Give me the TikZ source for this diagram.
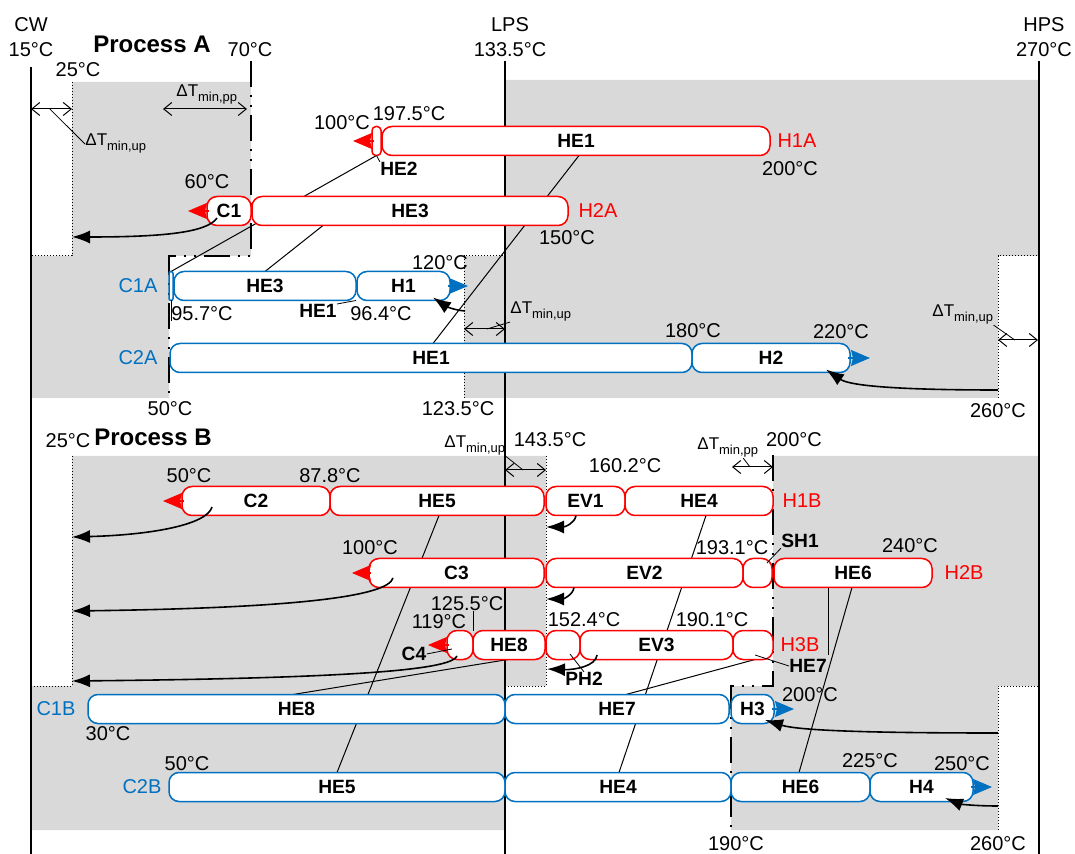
\documentclass[tikz,border=0pt]{standalone}
\usepackage{fontspec}
\setmainfont{Liberation Sans}
\usetikzlibrary{arrows.meta,calc}
\definecolor{hot}{HTML}{FF0000}
\definecolor{cold}{HTML}{0070C0}
\definecolor{regiongray}{HTML}{D9D9D9}
\pgfdeclarelayer{shadelayer}
\pgfdeclarelayer{linklayer}
\pgfsetlayers{shadelayer,linklayer,main}
\newcommand\segnode[7][5pt]{%
  \pgfmathsetmacro\segw{(#4-#3)*0.5}%
  \node[segbox, draw=#6, rounded corners=#1, minimum width=\segw pt] (#2) at (#3,#5) {#7};}
\newcommand\dtmin[1]{ΔT\raisebox{-2.5pt}{\fontsize{6.5}{7}\selectfont #1}}
\begin{document}
\begin{tikzpicture}[x=0.5pt,y=-0.5pt,
  segbox/.style={fill=white, line width=0.75pt, minimum height=14.5pt, inner sep=0pt, outer sep=0pt, anchor=west, font=\fontsize{9.6}{11}\selectfont\bfseries},
  lbl/.style={inner sep=0pt, font=\fontsize{10}{12}\selectfont},
  seglbl/.style={inner sep=0pt, font=\fontsize{9.6}{11}\selectfont\bfseries},
  headline/.style={inner sep=0pt, font=\fontsize{12}{14}\selectfont\bfseries},
  dtlbl/.style={inner sep=0pt, anchor=base west, font=\fontsize{8.5}{10}\selectfont},
  boundary/.style={line width=0.5pt, dash pattern=on 0.6pt off 0.9pt},
  utility/.style={line width=0.75pt},
  pinch/.style={line width=1.4pt, dash pattern=on 13pt off 4pt on 1pt off 4pt on 1pt off 4pt},
  match/.style={line width=0.5pt},
  leader/.style={line width=0.4pt},
  dtarrow/.style={line width=0.5pt, {Straight Barb[length=4pt,width=6.5pt]}-{Straight Barb[length=4pt,width=6.5pt]}},
  duty/.style={line width=0.8pt, -{Latex[length=9pt,width=6.5pt]}},
  hotend/.style={hot, line width=0.6pt, -{Stealth[length=9.5pt,width=8pt,inset=1pt]}},
  coldend/.style={cold, line width=0.6pt, -{Stealth[length=9.5pt,width=8pt,inset=1pt]}},
]
\useasboundingbox (0,0) rectangle (1075,854);

% ---------- shaded regions ----------
\begin{pgfonlayer}{shadelayer}
\fill[regiongray] (72,82) -- (251,82) -- (251,256) -- (169,256) -- (169,398) -- (32,398) -- (32,256) -- (72,256) -- cycle;
\fill[regiongray] (505,80) -- (1039,80) -- (1039,256) -- (998,256) -- (998,398) -- (464,398) -- (464,256) -- (505,256) -- cycle;
\fill[regiongray] (72,456) -- (546,456) -- (546,686) -- (505,686) -- (505,830) -- (32,830) -- (32,686) -- (72,686) -- cycle;
\fill[regiongray] (773,456) -- (1039,456) -- (1039,686) -- (998,686) -- (998,830) -- (731,830) -- (731,686) -- (773,686) -- cycle;
\draw[boundary] (72,82) -- (72,256) -- (31,256);
\draw[boundary] (464,398) -- (464,256) -- (505,256);
\draw[boundary] (998,398) -- (998,256) -- (1039,256);
\draw[boundary] (72,456) -- (72,686) -- (31,686);
\draw[boundary] (546,456) -- (546,686) -- (505,686);
\draw[boundary] (998,830) -- (998,686) -- (1039,686);
\end{pgfonlayer}

% ---------- stream segments ----------
% Process A
\segnode[2pt]{h1a2}{372}{381}{141}{hot}{}
\segnode{h1a1}{382}{770}{141}{hot}{HE1}
\segnode{h2ac1}{207}{251}{211}{hot}{C1}
\segnode{h2a3}{252}{568}{211}{hot}{HE3}
\segnode[1pt]{c1a0}{169}{173}{286}{cold}{}
\segnode{c1a3}{174}{356}{286}{cold}{HE3}
\segnode{c1ah1}{357}{450}{286}{cold}{H1}
\segnode{c2a1}{170}{692}{358}{cold}{HE1}
\segnode{c2ah2}{692}{850}{358}{cold}{H2}
% Process B
\segnode{h1bc2}{182}{330}{501}{hot}{C2}
\segnode{h1b5}{330}{544}{501}{hot}{HE5}
\segnode{h1bev1}{546}{625}{501}{hot}{EV1}
\segnode{h1b4}{625}{773}{501}{hot}{HE4}
\segnode{h2bc3}{369}{544}{573}{hot}{C3}
\segnode{h2bev2}{546}{743}{573}{hot}{EV2}
\segnode{h2bsh1}{743}{772}{573}{hot}{}
\segnode{h2b6}{774}{932}{573}{hot}{HE6}
\segnode{h3bc4}{447}{473}{645}{hot}{}
\segnode{h3b8}{473}{545}{645}{hot}{HE8}
\segnode{h3bph2}{546}{580}{645}{hot}{}
\segnode{h3bev3}{580}{733}{645}{hot}{EV3}
\segnode{h3b7}{733}{773}{645}{hot}{}
\segnode{c1b8}{88}{505}{709}{cold}{HE8}
\segnode{c1b7}{505}{729}{709}{cold}{HE7}
\segnode{c1bh3}{731}{774}{709}{cold}{H3}
\segnode{c2b5}{169}{505}{787}{cold}{HE5}
\segnode{c2b4}{505}{731}{787}{cold}{HE4}
\segnode{c2b6}{731}{870}{787}{cold}{HE6}
\segnode{c2bh4}{870}{973}{787}{cold}{H4}

% ---------- utility lines, pinch lines, matches (behind bars) ----------
\begin{pgfonlayer}{linklayer}
\coordinate (cwtop) at (31,67);   \coordinate (cwbot) at (31,854);
\coordinate (lpstop) at (505,61); \coordinate (lpsbot) at (505,854);
\coordinate (hpstop) at (1039,61);\coordinate (hpsbot) at (1039,854);
\draw[utility] (cwtop) -- (cwbot);
\draw[utility] (lpstop) -- (lpsbot);
\draw[utility] (hpstop) -- (hpsbot);
\draw[pinch] (251,61) -- (251,256) -- (169,256) -- (169,398);
\draw[pinch] (773,455) -- (773,686) -- (731,686) -- (731,830);
\draw[match] (h1a2.south) -- (c1a0.north);
\draw[match] (h2a3.south -| 323,0) -- (c1a3.north -| 265,0);
\draw[match] (h1a1.south -| 579,0) -- (c2a1.north -| 433,0);
\draw[match] (h1b5.south -| 439,0) -- (c2b5.north -| 337,0);
\draw[match] (h1b4.south -| 706,0) -- (c2b4.north -| 619,0);
\draw[match] (h2b6.south -| 852,0) -- (c2b6.north -| 799,0);
\draw[match] (h3b8.south -| 508,0) -- (c1b8.north -| 293,0);
\draw[match] (h3b7.south -| 755,0) -- (c1b7.north -| 626,0);
\coordinate (he7v) at (828,655);
\draw[match] (h2b6.south -| 828,0) -- (he7v);
\end{pgfonlayer}

% ---------- stream end arrows ----------
\draw[hotend] ([xshift=1pt]h1a2.west) -- ++(-21,0);
\draw[hotend] ([xshift=1pt]h2ac1.west) -- ++(-21,0);
\draw[hotend] ([xshift=1pt]h1bc2.west) -- ++(-21,0);
\draw[hotend] ([xshift=1pt]h2bc3.west) -- ++(-19,0);
\draw[hotend] ([xshift=1pt]h3bc4.west) -- ++(-21,0);
\draw[coldend] ([xshift=-1pt]c1ah1.east) -- ++(20,0);
\draw[coldend] ([xshift=-1pt]c2ah2.east) -- ++(22,0);
\draw[coldend] ([xshift=-1pt]c1bh3.east) -- ++(22,0);
\draw[coldend] ([xshift=-1pt]c2bh4.east) -- ++(21,0);

% ---------- utility duty arrows ----------
\coordinate (cwA) at (72,237);
\coordinate (lpsA) at (465,311);
\coordinate (hpsA) at (998,390);
\coordinate (cwB1) at (72,537);
\coordinate (lpsB1) at (546,527);
\coordinate (cwB2) at (72,611);
\coordinate (lpsB2) at (546,599);
\coordinate (cwB3) at (72,681);
\coordinate (lpsB3) at (547,669);
\coordinate (hpsB1) at (998,733);
\coordinate (hpsB2) at (998,806);
\draw[duty] ($(h2ac1.south -| 217,0)+(0,-7.5)$) .. controls (207,233) and (160,237) .. (cwA);
\draw[duty] (lpsA) .. controls (452,310) and (444,305) .. ($(c1ah1.south -| 433,0)+(0,-3)$);
\draw[duty] (hpsA) .. controls (900,390) and (850,386) .. ($(c2ah2.south -| 826,0)+(0,-3)$);
\draw[duty] ($(h1bc2.south -| 212,0)+(0,-8.5)$) .. controls (207,525) and (150,535) .. (cwB1);
\draw[duty] (h1bev1.south -| 576,0) .. controls (575,523) and (565,527) .. (lpsB1);
\draw[duty] ($(h2bc3.south -| 393,0)+(0,-9.5)$) .. controls (388,596) and (300,608) .. (cwB2);
\draw[duty] (h2bev2.south -| 574,0) .. controls (573,595) and (563,599) .. (lpsB2);
\draw[duty] ($(h3bc4.south -| 457,0)+(0,-3.5)$) .. controls (452,668) and (380,678) .. (cwB3);
\draw[duty] ($(h3bev3.south -| 597,0)+(0,-4.5)$) .. controls (596,666) and (575,670) .. (lpsB3);
\draw[duty] (hpsB1) .. controls (880,733) and (800,731) .. ($(c1bh3.south -| 765,0)+(0,-3.5)$);
\draw[duty] (hpsB2) .. controls (975,806) and (960,804) .. ($(c2bh4.south -| 945,0)+(0,-3.5)$);

% ---------- delta T markers ----------
\coordinate (dA1a) at (31,109);  \coordinate (dA1b) at (72,109);
\coordinate (dA2a) at (163,109); \coordinate (dA2b) at (247,109);
\coordinate (dA3a) at (464,329); \coordinate (dA3b) at (505,329);
\coordinate (dA4a) at (998,340); \coordinate (dA4b) at (1038,340);
\coordinate (dB1a) at (505,470); \coordinate (dB1b) at (546,470);
\coordinate (dB2a) at (732,467); \coordinate (dB2b) at (773,467);
\draw[dtarrow] (dA1a) -- (dA1b);
\draw[dtarrow] (dA2a) -- (dA2b);
\draw[dtarrow] (dA3a) -- (dA3b);
\draw[dtarrow] (dA4a) -- (dA4b);
\draw[dtarrow] (dB1a) -- (dB1b);
\draw[dtarrow] (dB2a) -- (dB2b);
\node[dtlbl] (tdA1) at (85,146) {\dtmin{min,up}};
\node[dtlbl] (tdA2) at (176,97) {\dtmin{min,pp}};
\node[dtlbl] (tdA3) at (510,314) {\dtmin{min,up}};
\node[dtlbl] (tdA4) at (932,317) {\dtmin{min,up}};
\node[dtlbl] (tdB1) at (444,448) {\dtmin{min,up}};
\node[dtlbl] (tdB2) at (697,450) {\dtmin{min,pp}};
\draw[leader] ($(dA1a)!0.46!(dA1b)$) -- (tdA1.west);
\draw[leader] ($(dA3a)!0.56!(dA3b)$) -- (tdA3.south west);
\draw[leader] ($(dA4a)!0.42!(dA4b)$) -- (tdA4.south east);
\draw[leader] ($(dB1a)!0.44!(dB1b)$) -- (tdB1.south east);
\draw[leader] ($(dB2a)!0.44!(dB2b)$) -- ($(tdB2.south)!0.5!(tdB2.south east)$);

% ---------- headings ----------
\node[lbl] (tcw) at (31,25) {CW};
\node[lbl] (tcwt) at (31,50) {15°C};
\node[lbl] (tlps) at (510,25) {LPS};
\node[lbl] (tlpst) at (510,50) {133.5°C};
\node[lbl] (thps) at (1044,25) {HPS};
\node[lbl] (thpst) at (1044,50) {270°C};
\node[headline] (tpa) at (152,44) {Process A};
\node[headline] (tpb) at (153,437) {Process B};

% ---------- Process A labels ----------
\node[lbl] (t70) at (250,50) {70°C};
\node[lbl] (t25a) at (78,70) {25°C};
\node[lbl] (t100a) at (342,123) {100°C};
\node[lbl] (t1975) at (409,114) {197.5°C};
\node[seglbl] (lhe2) at (399,169) {HE2};
\draw[leader] (h1a2.south) -- (lhe2.north west);
\node[lbl, text=hot] (th1a) at (797,141) {H1A};
\node[lbl] (t200a) at (790,169) {200°C};
\node[lbl] (t60) at (207,182) {60°C};
\node[lbl, text=hot] (th2a) at (598,211) {H2A};
\node[lbl] (t150) at (567,238) {150°C};
\node[lbl, text=cold] (tc1a) at (138,286) {C1A};
\node[lbl] (t120) at (440,263) {120°C};
\node[lbl] (t957) at (202,314) {95.7°C};
\draw[leader] (c1a0.south) -- (c1a0.south |- t957.south);
\node[seglbl] (lhe1a) at (318,311) {HE1};
\draw[leader] (lhe1a.north east) -- (c1a3.south east);
\node[lbl] (t964) at (381,314) {96.4°C};
\node[lbl] (t180) at (693,331) {180°C};
\node[lbl] (t220) at (841,332) {220°C};
\node[lbl, text=cold] (tc2a) at (138,358) {C2A};
\node[lbl] (t50a) at (170,409) {50°C};
\node[lbl] (t1235) at (458,409) {123.5°C};
\node[lbl] (t260a) at (998,411) {260°C};

% ---------- Process B labels ----------
\node[lbl] (t25b) at (68,441) {25°C};
\node[lbl] (t1435) at (550,440) {143.5°C};
\node[lbl] (t200b) at (794,440) {200°C};
\node[lbl] (t1602) at (625,466) {160.2°C};
\node[lbl] (t50b) at (189,476) {50°C};
\node[lbl] (t878) at (330,476) {87.8°C};
\node[lbl, text=hot] (th1b) at (802,501) {H1B};
\node[lbl] (t100b) at (370,548) {100°C};
\node[lbl] (t1931) at (732,548) {193.1°C};
\node[seglbl] (lsh1) at (800,541) {SH1};
\draw[leader] ($(h2bsh1.center)!0.4!(lsh1.south west)$) -- (lsh1.south west);
\node[lbl] (t240) at (910,546) {240°C};
\node[lbl, text=hot] (th2b) at (964,573) {H2B};
\node[lbl] (t1255) at (467,604) {125.5°C};
\draw[leader] (h3b8.north west) -- (h3b8.north west |- t1255.south);
\node[lbl] (t119) at (439,622) {119°C};
\node[lbl] (t1524) at (584,620) {152.4°C};
\node[lbl] (t1901) at (712,620) {190.1°C};
\node[lbl, text=hot] (th3b) at (800,645) {H3B};
\node[seglbl] (lc4) at (414,654) {C4};
\draw[leader] (lc4.east) -- ($(h3bc4.center)+(-8,4)$);
\node[seglbl] (lph2) at (584,679) {PH2};
\draw[leader] (lph2.north) -- ($(h3bph2.center)+(7,9)$);
\node[seglbl] (lhe7) at (808,666) {HE7};
\draw[leader] (lhe7.west) -- ($(h3b7.center)+(2,10)$);
\node[lbl] (t200c) at (810,695) {200°C};
\node[lbl, text=cold] (tc1b) at (56,709) {C1B};
\node[lbl] (t30) at (108,734) {30°C};
\node[lbl] (t50c) at (187,764) {50°C};
\node[lbl] (t225) at (870,761) {225°C};
\node[lbl] (t250) at (962,764) {250°C};
\node[lbl, text=cold] (tc2b) at (142,787) {C2B};
\node[lbl] (t190) at (736,844) {190°C};
\node[lbl] (t260b) at (998,844) {260°C};
\end{tikzpicture}
\end{document}
